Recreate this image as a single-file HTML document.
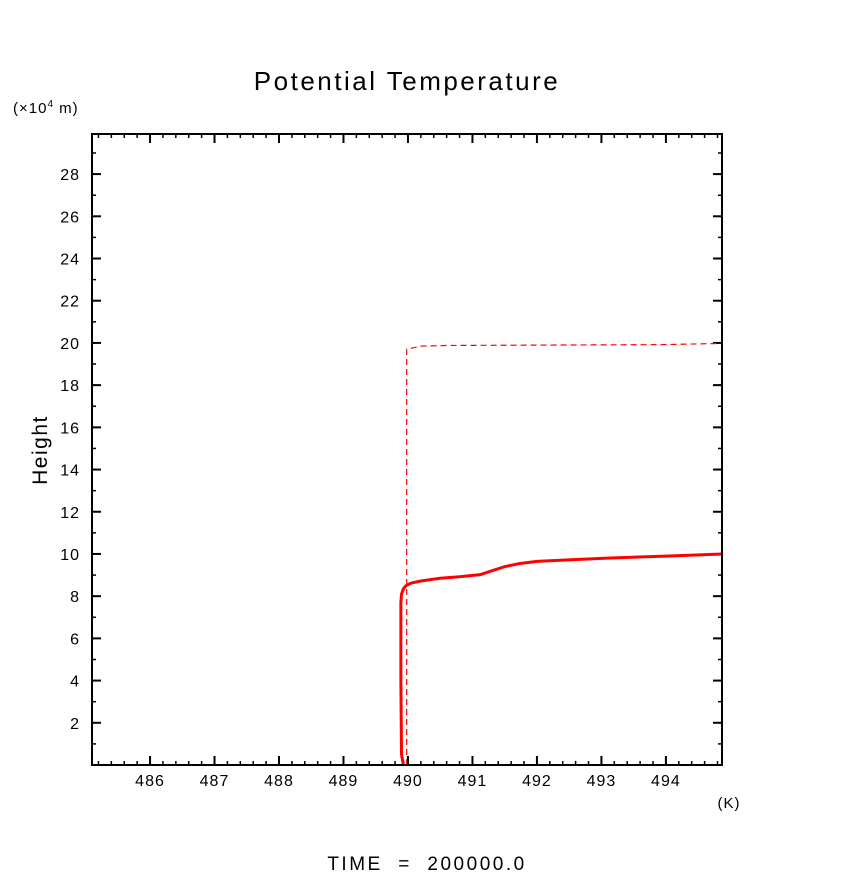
<!DOCTYPE html>
<html><head><meta charset="utf-8"><style>
html,body{margin:0;padding:0;background:#fff;}
svg{display:block;font-family:"Liberation Sans",sans-serif;}
</style></head><body>
<svg id="chart" width="854" height="879" viewBox="0 0 854 879" xmlns="http://www.w3.org/2000/svg">
<text x="407" y="90" font-size="26" letter-spacing="2.5" text-anchor="middle" fill="#000">Potential Temperature</text>
<text x="13" y="113" font-size="15" letter-spacing="1" fill="#000">(×10<tspan font-size="10" dy="-6">4</tspan><tspan dy="6"> m)</tspan></text>
<text x="47" y="450" font-size="21" letter-spacing="1.5" text-anchor="middle" fill="#000" transform="rotate(-90 47 450)">Height</text>
<text x="729" y="808" font-size="15" letter-spacing="1" text-anchor="middle" fill="#000">(K)</text>
<text x="427" y="870" font-size="19" letter-spacing="2.5" text-anchor="middle" fill="#000" xml:space="preserve">TIME  =  200000.0</text>
<g id="ticks"></g>
<g id="series"></g>
<rect x="92" y="134" width="630" height="631" fill="none" stroke="#000" stroke-width="2"/>
</svg>
<script>
const xTicks=[486,487,488,489,490,491,492,493,494];
const yTicks=[2,4,6,8,10,12,14,16,18,20,22,24,26,28];
const solidTemp=[489.93,489.90,489.89,489.89,489.90,489.93,489.97,490.05,490.2,490.5,490.8,491.12,491.3,491.5,491.74,492.0,492.36,493.09,494.0,494.88];
const solidHeight=[0,0.5,4,7.7,8.1,8.35,8.5,8.62,8.72,8.85,8.92,9.02,9.2,9.4,9.55,9.65,9.7,9.8,9.9,10.0];
const dashTemp=[489.98,489.98,490.2,490.6,494.0,494.88];
const dashHeight=[0,19.7,19.85,19.88,19.92,19.98];
const X0=92,X1=722,Y0=765,Y1=134,xmin=485.1,xmax=494.87,ymin=0,ymax=29.9;
function sx(v){return X0+(v-xmin)/(xmax-xmin)*(X1-X0);}
function sy(v){return Y0-(v-ymin)/(ymax-ymin)*(Y0-Y1);}
const NS="http://www.w3.org/2000/svg";
const tg=document.getElementById('ticks');
function ln(x1,y1,x2,y2,w){const l=document.createElementNS(NS,'line');l.setAttribute('x1',x1);l.setAttribute('y1',y1);l.setAttribute('x2',x2);l.setAttribute('y2',y2);l.setAttribute('stroke','#000');l.setAttribute('stroke-width',w);


tg.appendChild(l);}
for(let v=485.2;v<xmax;v+=0.2){const x=sx(v);ln(x,Y0,x,Y0-4,1.5);ln(x,Y1,x,Y1+4,1.5);}
for(let v=1;v<ymax;v+=1){const y=sy(v);ln(X0,y,X0+4,y,1.5);ln(X1,y,X1-4,y,1.5);}
xTicks.forEach(v=>{const x=sx(v);ln(x,Y0,x,Y0-9,2);ln(x,Y1,x,Y1+9,2);
const t=document.createElementNS(NS,'text');t.setAttribute('x',x);t.setAttribute('y',786);t.setAttribute('font-size','16');t.setAttribute('letter-spacing','1');t.setAttribute('text-anchor','middle');t.textContent=v;


tg.appendChild(t);});
yTicks.forEach(v=>{const y=sy(v);ln(X0,y,X0+9,y,2);ln(X1,y,X1-9,y,2);
const t=document.createElementNS(NS,'text');t.setAttribute('x',80);t.setAttribute('y',y+6);t.setAttribute('font-size','16');t.setAttribute('letter-spacing','1');t.setAttribute('text-anchor','end');t.textContent=v;


tg.appendChild(t);});
const sg=document.getElementById('series');
function path(xs,ys,w,dash,name){const p=document.createElementNS(NS,'polyline');
p.setAttribute('points',xs.map((v,i)=>sx(v)+','+sy(ys[i])).join(' '));
p.setAttribute('fill','none');p.setAttribute('stroke','#ff0000');p.setAttribute('stroke-width',w);p.setAttribute('stroke-linejoin','round');
if(dash)p.setAttribute('stroke-dasharray',dash);


sg.appendChild(p);}
path(dashTemp,dashHeight,1.2,'6 4','dashed-series-line');
path(solidTemp,solidHeight,3,null,'solid-series-line');
</script>
</body></html>
